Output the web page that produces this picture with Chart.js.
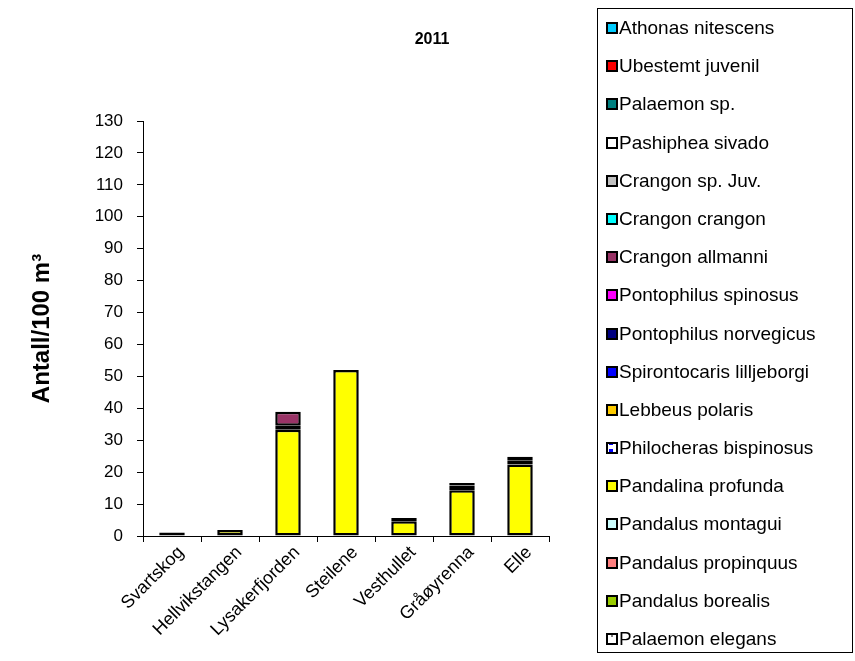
<!DOCTYPE html>
<html>
<head>
<meta charset="utf-8">
<script src="https://cdn.jsdelivr.net/npm/chart.js@4.4.1/dist/chart.umd.min.js"></script>
<style>
  html, body { margin: 0; padding: 0; background: #ffffff; }
  #wrap { width: 855px; height: 661px; position: relative; }
</style>
</head>
<body>
<div id="wrap"><canvas id="c" width="855" height="661"></canvas></div>
<script>
// ---- Data ----
const sites = ["Svartskog", "Hellvikstangen", "Lysakerfjorden", "Steilene", "Vesthullet", "Gråøyrenna", "Elle"];

// species listed bottom of stack -> top of stack
const speciesNames = [
  "Palaemon elegans", "Pandalus borealis", "Pandalus propinquus", "Pandalus montagui",
  "Pandalina profunda", "Philocheras bispinosus", "Lebbeus polaris", "Spirontocaris lilljeborgi",
  "Pontophilus norvegicus", "Pontophilus spinosus", "Crangon allmanni", "Crangon crangon",
  "Crangon sp. Juv.", "Pashiphea sivado", "Palaemon sp.", "Ubestemt juvenil", "Athonas nitescens"
];

const palaemonElegans      = [0, 0, 0, 0, 0, 0, 0];
const pandalusBorealis     = [0, 0, 0, 0, 0, 0, 0];
const pandalusPropinquus   = [0, 0, 0, 0, 0, 0, 0];
const pandalusMontagui     = [0, 0, 0, 0, 0, 0, 0];
const pandalinaProfunda    = [1.1, 1.9, 33.3, 52.0, 4.6, 14.3, 22.4];
const philocherasBispinosus= [0, 0, 0, 0, 0, 0, 0];
const lebbeusPolaris       = [0, 0, 0, 0, 0, 0, 0];
const spirontocarisLillj   = [0, 0, 0, 0, 0, 0, 0];
const pontophilusNorveg    = [0, 0, 1.2, 0, 1.0, 1.5, 1.2];
const pontophilusSpinosus  = [0, 0, 0, 0, 0, 0, 0];
const crangonAllmanni      = [0, 0, 4.4, 0, 0, 0, 1.2];
const crangonCrangon       = [0, 0, 0, 0, 0, 0, 0];
const crangonSpJuv         = [0, 0, 0, 0, 0, 0, 0];
const pashipheaSivado      = [0, 0, 0, 0, 0, 0, 0];
const palaemonSp           = [0, 0, 0, 0, 0, 0.8, 0];
const ubestemtJuvenil      = [0, 0, 0, 0, 0, 0, 0];
const athonasNitescens     = [0, 0, 0, 0, 0, 0, 0];

const seriesValues = [
  palaemonElegans, pandalusBorealis, pandalusPropinquus, pandalusMontagui,
  pandalinaProfunda, philocherasBispinosus, lebbeusPolaris, spirontocarisLillj,
  pontophilusNorveg, pontophilusSpinosus, crangonAllmanni, crangonCrangon,
  crangonSpJuv, pashipheaSivado, palaemonSp, ubestemtJuvenil, athonasNitescens
];

const yTicks = [0, 10, 20, 30, 40, 50, 60, 70, 80, 90, 100, 110, 120, 130];
const chartTitle = "2011";
const yAxisTitle = "Antall/100 m³";

// ---- Styles ----
function makePattern(bg, fg, kind) {
  const p = document.createElement('canvas');
  p.width = 8; p.height = 8;
  const g = p.getContext('2d');
  g.fillStyle = bg; g.fillRect(0, 0, 8, 8);
  g.fillStyle = fg;
  if (kind === 'blue') g.fillRect(1, 1, 4, 4);
  else g.fillRect(3, 3, 2, 2);
  return g.createPattern(p, 'repeat');
}
const speciesColors = [
  makePattern('#ffffff', '#808080', 'dot'), '#99CC00', '#FF8080', '#CCFFFF',
  '#FFFF00', makePattern('#ffffff', '#0000FF', 'blue'), '#FFCC00', '#0000FF',
  '#000080', '#FF00FF', '#993366', '#00FFFF',
  '#C0C0C0', '#FFFFFF', '#008080', '#FF0000', '#00CCFF'
];

const datasets = speciesNames.map((name, i) => ({
  label: name,
  data: seriesValues[i].map(v => v === 0 ? null : v),
  backgroundColor: speciesColors[i],
  borderColor: '#000000',
  borderWidth: 2.5,
  borderSkipped: false,
  categoryPercentage: 1.0,
  barPercentage: 0.44
}));

const FONT = "'Liberation Sans', Arial, sans-serif";

const titlePlugin = {
  id: 'titleText',
  afterDraw(chart) {
    const c = chart.ctx;
    c.save();
    c.font = "bold 16px " + FONT;
    c.fillStyle = '#000';
    c.textAlign = 'center';
    c.textBaseline = 'middle';
    c.fillText(chartTitle, 432, 40);
    c.restore();
  }
};

const legendPlugin = {
  id: 'boxLegend',
  afterDraw(chart) {
    const c = chart.ctx;
    const left = 597, top = 8, right = 852, bottom = 652;
    c.save();
    c.strokeStyle = '#000';
    c.lineWidth = 1;
    c.strokeRect(left + 0.5, top + 0.5, right - left, bottom - top);
    c.font = "19px " + FONT;
    c.textBaseline = 'middle';
    c.textAlign = 'left';
    const ds = chart.data.datasets.slice().reverse();
    const step = (639 - 28) / (ds.length - 1);
    ds.forEach((d, i) => {
      const y = Math.round(28 + i * step);
      c.fillStyle = d.backgroundColor;
      c.fillRect(607, y - 5, 10, 10);
      c.lineWidth = 2;
      c.strokeStyle = '#000';
      c.strokeRect(607, y - 5, 10, 10);
      c.fillStyle = '#000';
      c.fillText(d.label, 619, y + 1);
    });
    c.restore();
  }
};

new Chart(document.getElementById('c'), {
  type: 'bar',
  data: { labels: sites, datasets: datasets },
  plugins: [titlePlugin, legendPlugin],
  options: {
    responsive: false,
    animation: false,
    devicePixelRatio: 1,
    layout: { padding: { left: 28, top: 121, right: 306, bottom: 0 } },
    plugins: { legend: { display: false }, tooltip: { enabled: false }, title: { display: false } },
    scales: {
      x: {
        stacked: true,
        border: { display: true, color: '#000', width: 1 },
        grid: { display: true, drawOnChartArea: false, drawTicks: true, tickLength: 6, color: '#000', offset: true },
        ticks: { color: '#000', font: { family: FONT, size: 18 }, maxRotation: 45, minRotation: 45, autoSkip: false, padding: 0, labelOffset: 9 },
        afterFit(scale) { scale.height = 125; }
      },
      y: {
        stacked: true,
        min: 0, max: 130,
        afterBuildTicks(scale) { scale.ticks = yTicks.map(v => ({ value: v })); },
        border: { display: true, color: '#000', width: 1 },
        grid: { display: true, drawOnChartArea: false, drawTicks: true, tickLength: 6, color: '#000' },
        ticks: { color: '#000', font: { family: FONT, size: 17 }, padding: 14 },
        title: { display: true, text: yAxisTitle, color: '#000', font: { family: FONT, size: 24, weight: 'bold' }, padding: { top: 0, bottom: 0 } },
        afterFit(scale) { scale.width = 115; }
      }
    }
  }
});
</script>
</body>
</html>
